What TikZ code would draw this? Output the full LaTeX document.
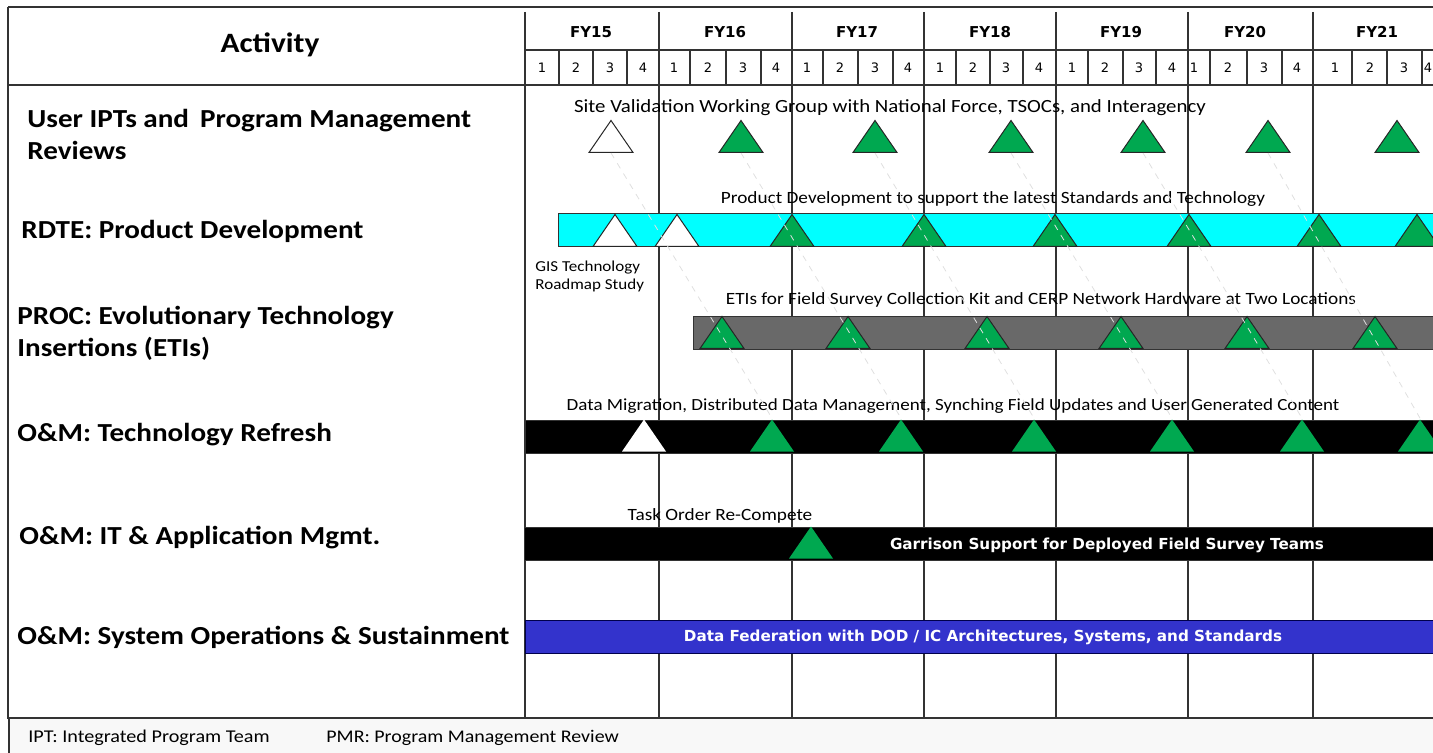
\documentclass[tikz,border=0pt]{standalone}
\usepackage{fontspec}
\setmainfont{Carlito}[FakeStretch=1.12]
\newfontfamily\hdrfont{DejaVu Sans}
\usetikzlibrary{shapes.geometric}

\definecolor{msgreen}{RGB}{0,168,80}
\definecolor{rdtebar}{RGB}{0,255,255}
\definecolor{procbar}{RGB}{105,105,105}
\definecolor{sosbar}{RGB}{51,51,204}
\definecolor{legendbg}{RGB}{248,248,248}

\begin{document}
\begin{tikzpicture}[x=0.5pt, y=-0.5pt,
	grid/.style={line width=0.8pt, black!80},
	act/.style={anchor=west, align=left, inner sep=0pt, yshift=-1pt, font=\fontsize{13}{16}\selectfont\bfseries},
	note/.style={inner sep=0pt, yshift=-1pt, font=\fontsize{8.6}{10}\selectfont},
	inbar/.style={inner sep=0pt, text=white, font=\hdrfont\fontsize{7.6}{9}\selectfont\bfseries},
	bar/.style={draw=black!80, line width=0.5pt},
	ms/.style={isosceles triangle, isosceles triangle stretches, shape border rotate=90,
		minimum width=22pt, minimum height=16pt, inner sep=0pt, anchor=south,
		draw=black!85, line width=0.5pt},
	done/.style={ms, fill=white},
	plan/.style={ms, fill=msgreen},
	link/.style={gray!25, dashed, line width=0.4pt}]
	\useasboundingbox (0,0) rectangle (1433,753);

	% Legend strip
	\fill [legendbg] (8,718) rectangle (1440,753);
	\draw [grid] (9,718) -- (9,753);
	\node [note, anchor=west, font=\fontsize{9}{10}\selectfont] (ipt) at (28,736) {IPT: Integrated Program Team};
	\node [note, anchor=west, font=\fontsize{8.9}{10}\selectfont] (pmr) at (326,736) {PMR: Program Management Review};

	% Frame and header
	\draw [grid] (8,7) -- (1440,7);
	\draw [grid] (8,7) -- (8,718) -- (1440,718);
	\draw [grid] (8,85) -- (1440,85);
	\draw [grid] (525,50) -- (1440,50);
	\foreach \x in {525,659,792,924,1056,1188,1313}
		\draw [grid] (\x,12) -- (\x,718);
	\foreach \x in {559,593,627,690,726,761,823,858,893,956,990,1023,1088,1123,1156,1210,1247,1282,1352,1387,1422}
		\draw [grid] (\x,50) -- (\x,85);
	\node [font=\fontsize{14}{16}\selectfont\bfseries] (activity) at (270,45) {Activity};
	\foreach \x/\fy in {591/15,725/16,857/17,990/18,1121/19,1245/20,1377/21}
		\node [font=\hdrfont\fontsize{7.5}{9}\selectfont\bfseries] (fy\fy) at (\x,32) {FY\fy};
	\foreach \x/\q in {542/1,576/2,610/3,643/4,674/1,708/2,743/3,776/4,807/1,840/2,875/3,908/4,
		940/1,973/2,1006/3,1039/4,1072/1,1105/2,1139/3,1172/4,1194/1,1228/2,1264/3,1297/4,
		1335/1,1370/2,1404/3,1428/4}
		\node [font=\hdrfont\fontsize{6.5}{8}\selectfont, inner sep=1pt] at (\x,68) {\q};

	% Activities
	\node [act] (user) at (27,132) {User IPTs and\, Program Management\\Reviews};
	\node [act] (rdte) at (21,229) {RDTE: Product Development};
	\node [act] (proc) at (17,331) {PROC: Evolutionary Technology\\Insertions (ETIs)};
	\node [act] (refresh) at (17,433) {O\&M: Technology Refresh};
	\node [act] (itapp) at (19,536) {O\&M: IT \& Application Mgmt.};
	\node [act] (sustain) at (17,635) {O\&M: System Operations \& Sustainment};

	% Bars
	\draw [bar, fill=rdtebar] (558,214) rectangle (1445,247);
	\draw [bar, fill=procbar] (693,317) rectangle (1445,349);
	\draw [bar, fill=black] (525,420) rectangle (1445,453);
	\draw [bar, fill=black] (524,527) rectangle (1445,560);
	\draw [bar, fill=sosbar, draw=black!70!blue] (525,620) rectangle (1445,653);

	% Bar texts
	\node [note, font=\fontsize{9.3}{10}\selectfont] (uservt) at (890,106) {Site Validation Working Group with National Force, TSOCs, and Interagency};
	\node [note] (rdtevt) at (993,197) {Product Development to support the latest Standards and Technology};
	\node [note, anchor=north west, align=left, font=\fontsize{7.6}{8.8}\selectfont] (gis) at (535,259) {GIS Technology\\Roadmap Study};
	\node [note] (procvt) at (1041,298) {ETIs for Field Survey Collection Kit and CERP Network Hardware at Two Locations};
	\node [note, font=\fontsize{8.5}{10}\selectfont] (refreshvt) at (953,404) {Data Migration, Distributed Data Management, Synching Field Updates and User Generated Content};
	\node [note] (recompete) at (720,514) {Task Order Re-Compete};
	\node [inbar] (garrison) at (1107,545) {Garrison Support for Deployed Field Survey Teams};
	\node [inbar] (datafed) at (983,637) {Data Federation with DOD / IC Architectures, Systems, and Standards};

	% Milestones
	\node [done] (u1) at (611,153) {};
	\foreach \x [count=\i from 2] in {741,875,1011,1143,1268,1397}
		\node [plan] (u\i) at (\x,153) {};
	\node [done] (r1) at (615,247) {};
	\node [done] (r2) at (677,247) {};
	\foreach \x [count=\i from 3] in {792,924,1055,1189,1319,1417}
		\node [plan] (r\i) at (\x,247) {};
	\foreach \x [count=\i] in {722,848,987,1121,1247,1375}
		\node [plan] (p\i) at (\x,349) {};
	\node [done, draw=none] (t1) at (644,452) {};
	\foreach \x [count=\i from 2] in {772,901,1034,1172,1302,1420}
		\node [plan, draw=none] (t\i) at (\x,452) {};
	\node [plan, draw=none] (m1) at (811,559) {};

	% Links
	\foreach \i [evaluate=\i as \j using int(\i+1)] in {1,...,6}
		\draw [link] (u\i.south) -- (t\j.north);
\end{tikzpicture}
\end{document}
